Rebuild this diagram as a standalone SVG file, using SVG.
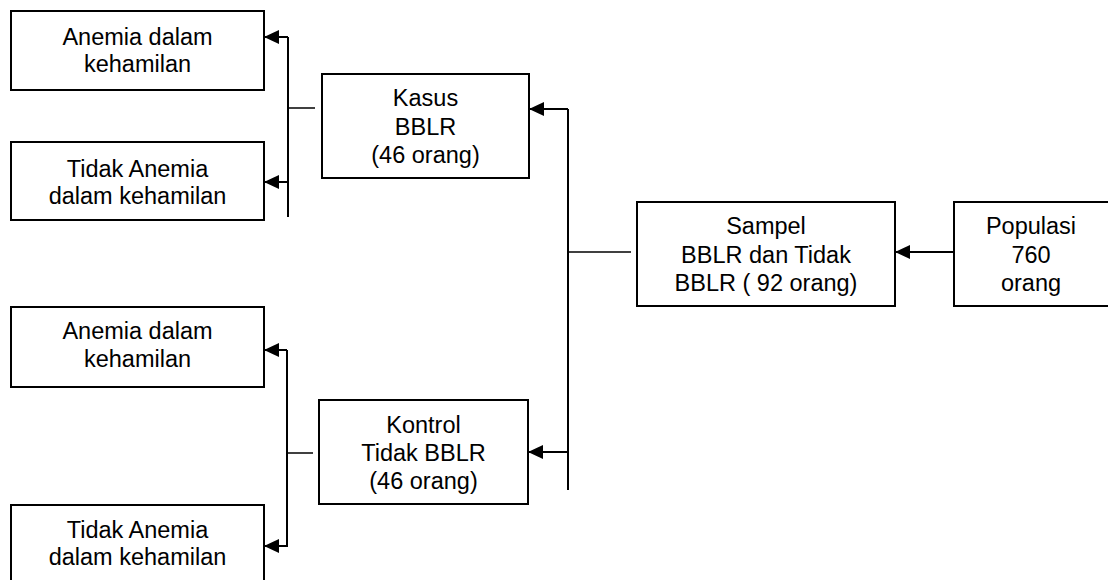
<svg xmlns="http://www.w3.org/2000/svg" width="1108" height="580" viewBox="0 0 1108 580">
<style>
.box{fill:#fff;stroke:#000;stroke-width:2}
.t{font-family:"Liberation Sans",Arial,sans-serif;font-size:23.5px;fill:#000;text-anchor:middle}
.ln{fill:none;stroke:#000;stroke-width:2}
.st{fill:none;stroke:#000;stroke-width:1.5}
</style>
<defs>
<marker id="ah" markerUnits="userSpaceOnUse" markerWidth="16" markerHeight="14" refX="15" refY="7" orient="auto">
<path d="M0,0 L15,7 L0,14 Z" fill="#000"/>
</marker>
</defs>
<rect width="1108" height="580" fill="#fff"/>
<g id="n-anemia1"><rect class="box" x="11" y="11" width="253" height="79"/><text class="t" x="137.5" y="45">Anemia dalam</text><text class="t" x="137.5" y="72">kehamilan</text></g>
<g id="n-tidak1"><rect class="box" x="11" y="142" width="253" height="78"/><text class="t" x="137.5" y="177">Tidak Anemia</text><text class="t" x="137.5" y="204">dalam kehamilan</text></g>
<g id="n-anemia2"><rect class="box" x="11" y="307" width="253" height="80"/><text class="t" x="137.5" y="339">Anemia dalam</text><text class="t" x="137.5" y="367">kehamilan</text></g>
<g id="n-tidak2"><rect class="box" x="11" y="505" width="253" height="90"/><text class="t" x="137.5" y="538">Tidak Anemia</text><text class="t" x="137.5" y="565">dalam kehamilan</text></g>
<g id="n-kasus"><rect class="box" x="322" y="74" width="207" height="104"/><text class="t" x="425.5" y="106">Kasus</text><text class="t" x="425.5" y="135">BBLR</text><text class="t" x="425.5" y="163">(46 orang)</text></g>
<g id="n-kontrol"><rect class="box" x="319" y="400" width="209" height="104"/><text class="t" x="423.5" y="433">Kontrol</text><text class="t" x="423.5" y="461">Tidak BBLR</text><text class="t" x="423.5" y="489">(46 orang)</text></g>
<g id="n-sampel"><rect class="box" x="637" y="202" width="258" height="104"/><text class="t" x="766" y="234">Sampel</text><text class="t" x="766" y="263">BBLR dan Tidak</text><text class="t" x="766" y="291">BBLR ( 92 orang)</text></g>
<g id="n-populasi"><rect class="box" x="954" y="202" width="170" height="104"/><text class="t" x="1031" y="234">Populasi</text><text class="t" x="1031" y="263">760</text><text class="t" x="1031" y="291">orang</text></g>
<g id="connectors">
<path class="ln" d="M954,252 H895" marker-end="url(#ah)"/>
<path class="st" d="M631,252 H568"/>
<path class="ln" d="M568,490 V109"/>
<path class="ln" d="M568,109 H529" marker-end="url(#ah)"/>
<path class="ln" d="M568,452 H528" marker-end="url(#ah)"/>
<path class="st" d="M315,108 H288"/>
<path class="ln" d="M288,217 V37"/>
<path class="ln" d="M288,37 H264" marker-end="url(#ah)"/>
<path class="ln" d="M288,182 H264" marker-end="url(#ah)"/>
<path class="st" d="M313,453 H287"/>
<path class="ln" d="M287,547 V350"/>
<path class="ln" d="M287,350 H264" marker-end="url(#ah)"/>
<path class="ln" d="M287,546 H264" marker-end="url(#ah)"/>
</g>
</svg>
